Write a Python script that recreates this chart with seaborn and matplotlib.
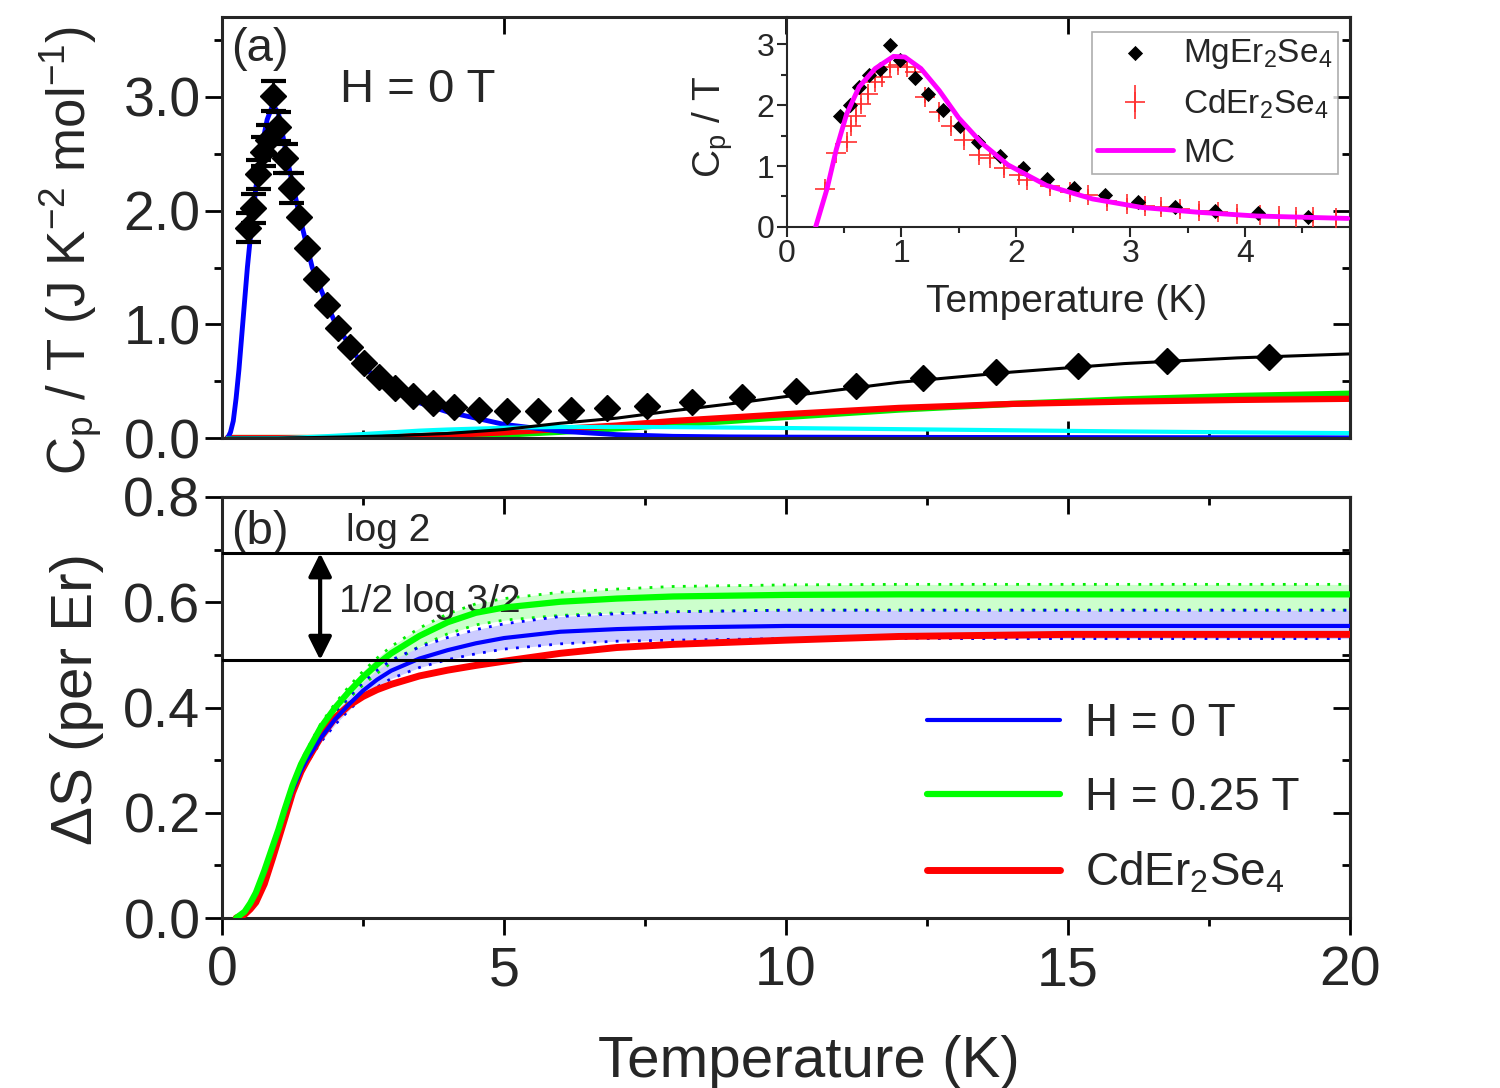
import numpy as np
import pandas as pd
import seaborn as sns
import matplotlib.pyplot as plt
from matplotlib.ticker import MultipleLocator

# ---- panel (a): MgEr2Se4, H = 0 T, total Cp/T
T_mg = [0.46, 0.55, 0.63, 0.72, 0.81, 0.90, 0.99, 1.12, 1.23, 1.36, 1.51, 1.67,
        1.86, 2.06, 2.27, 2.51, 2.78, 3.07, 3.39, 3.74, 4.12, 4.55, 5.05, 5.60,
        6.19, 6.82, 7.53, 8.33, 9.22, 10.18, 11.24, 12.43, 13.72, 15.18, 16.75, 18.56]
cp_mg = [1.85, 2.02, 2.32, 2.52, 2.62, 3.01, 2.74, 2.46, 2.20, 1.94, 1.67, 1.40,
         1.17, 0.97, 0.80, 0.66, 0.54, 0.44, 0.37, 0.31, 0.27, 0.25, 0.24, 0.24,
         0.25, 0.26, 0.28, 0.32, 0.36, 0.41, 0.46, 0.53, 0.58, 0.63, 0.68, 0.71]
n_cap = 9          # first points are drawn with error bar caps
err_low = 0.13
err_high = 0.07

# fit curves in panel (a)
T_fit = [0.1, 0.15, 0.2, 0.25, 0.3, 0.35, 0.4, 0.45, 0.5, 0.6, 0.7, 0.8, 0.9, 1.0, 1.2, 1.4,
         1.6, 1.8, 2.0, 2.5, 3.0, 3.5, 4.0, 5.0, 6.0, 7.0, 8.0, 9.0, 10, 12, 14, 16, 18, 20]
fit_mag = [0.0, 0.05, 0.15, 0.35, 0.6, 0.9, 1.2, 1.5, 1.75, 2.2, 2.55, 2.8, 2.93, 2.86, 2.35, 1.9,
           1.5, 1.25, 1.02, 0.63, 0.42, 0.31, 0.23, 0.12, 0.06, 0.03, 0.015, 0.01, 0.008,
           0.006, 0.005, 0.004, 0.003, 0.002]
fit_total = [0, 0, 0, 0, 0, 0, 0, 0, 0, 0, 0, 0, 0, 0, 0.002, 0.003,
             0.004, 0.006, 0.008, 0.013, 0.02, 0.03, 0.04, 0.075, 0.13, 0.175, 0.24, 0.30,
             0.365, 0.49, 0.58, 0.655, 0.705, 0.74]
fit_red = [0, 0, 0, 0, 0, 0, 0, 0, 0, 0, 0, 0, 0, 0, 0, 0,
           0, 0, 0, 0.005, 0.01, 0.018, 0.027, 0.05, 0.08, 0.11, 0.15, 0.18, 0.21,
           0.265, 0.30, 0.32, 0.335, 0.345]
fit_green = [0, 0, 0, 0, 0, 0, 0, 0, 0, 0, 0, 0, 0, 0, 0, 0,
             0, 0, 0, 0, 0.005, 0.01, 0.016, 0.03, 0.055, 0.085, 0.12, 0.15, 0.185,
             0.25, 0.30, 0.34, 0.37, 0.39]
fit_cyan = [0, 0, 0, 0, 0, 0, 0, 0, 0, 0, 0, 0, 0, 0, 0.002, 0.006,
            0.01, 0.015, 0.02, 0.035, 0.05, 0.065, 0.075, 0.09, 0.097, 0.098, 0.096, 0.092,
            0.088, 0.078, 0.068, 0.058, 0.05, 0.043]

# ---- inset: magnetic Cp/T
T_in_mg = [0.46, 0.55, 0.63, 0.72, 0.81, 0.90, 0.99, 1.12, 1.23, 1.36, 1.51, 1.67,
           1.86, 2.06, 2.27, 2.51, 2.78, 3.07, 3.39, 3.74, 4.12, 4.55]
cp_in_mg = [1.82, 2.0, 2.3, 2.5, 2.6, 2.99, 2.74, 2.44, 2.18, 1.92, 1.66, 1.39,
            1.17, 0.96, 0.78, 0.64, 0.52, 0.41, 0.32, 0.26, 0.23, 0.16]
T_cd = [0.33, 0.43, 0.52, 0.56, 0.60, 0.65, 0.71, 0.77, 0.83, 0.90, 0.97, 1.05, 1.12,
        1.21, 1.33, 1.43, 1.55, 1.68, 1.77, 1.90, 2.03, 2.10, 2.30, 2.47, 2.63, 2.80,
        2.97, 3.13, 3.27, 3.43, 3.60, 3.77, 3.93, 4.13, 4.30, 4.45, 4.60, 4.80]
cp_cd = [0.63, 1.21, 1.39, 1.66, 1.82, 2.02, 2.18, 2.38, 2.46, 2.63, 2.66, 2.63, 2.55,
         2.13, 1.88, 1.66, 1.43, 1.18, 1.13, 0.96, 0.86, 0.77, 0.68, 0.57, 0.52, 0.43,
         0.38, 0.35, 0.32, 0.29, 0.27, 0.24, 0.21, 0.19, 0.18, 0.17, 0.16, 0.14]
err_cd = 0.1
T_mc = [0.25, 0.35, 0.43, 0.52, 0.63, 0.77, 0.93, 1.03, 1.17, 1.33, 1.50, 1.70, 1.93,
        2.27, 2.67, 3.10, 3.60, 4.10, 4.90]
cp_mc = [0.0, 0.63, 1.27, 1.85, 2.3, 2.6, 2.8, 2.79, 2.6, 2.24, 1.79, 1.38, 1.02,
         0.68, 0.46, 0.32, 0.24, 0.18, 0.14]

# ---- panel (b): entropy
T_S = [0.25, 0.4, 0.5, 0.6, 0.75, 0.9, 1.0, 1.1, 1.25, 1.4, 1.5, 1.75, 2.0, 2.25,
       2.5, 2.75, 3.0, 3.5, 4.0, 4.5, 5.0, 6.0, 7.0, 8.0, 10, 12, 15, 20]
S_green = [0.0, 0.012, 0.028, 0.048, 0.09, 0.137, 0.168, 0.203, 0.252, 0.292, 0.313, 0.362,
           0.399, 0.43, 0.458, 0.482, 0.503, 0.536, 0.562, 0.58, 0.59, 0.601, 0.607, 0.611,
           0.614, 0.615, 0.615, 0.615]
S_green_hi = [0.0, 0.013, 0.030, 0.050, 0.093, 0.140, 0.171, 0.207, 0.257, 0.298, 0.319, 0.369,
              0.407, 0.44, 0.469, 0.494, 0.516, 0.551, 0.578, 0.597, 0.607, 0.619, 0.625, 0.630,
              0.633, 0.634, 0.634, 0.634]
S_green_lo = [0.0, 0.011, 0.026, 0.046, 0.087, 0.134, 0.165, 0.199, 0.246, 0.285, 0.305, 0.353,
              0.388, 0.417, 0.443, 0.465, 0.485, 0.516, 0.54, 0.557, 0.566, 0.575, 0.58, 0.582,
              0.585, 0.585, 0.585, 0.585]
S_blue = [0.0, 0.012, 0.028, 0.047, 0.088, 0.134, 0.164, 0.197, 0.243, 0.28, 0.3, 0.342,
          0.377, 0.406, 0.432, 0.453, 0.47, 0.493, 0.509, 0.522, 0.532, 0.544, 0.549, 0.552,
          0.555, 0.555, 0.555, 0.555]
S_blue_hi = [0.0, 0.013, 0.030, 0.049, 0.091, 0.137, 0.167, 0.201, 0.249, 0.287, 0.308, 0.352,
             0.389, 0.42, 0.448, 0.471, 0.49, 0.515, 0.533, 0.548, 0.559, 0.573, 0.578, 0.582,
             0.585, 0.585, 0.585, 0.585]
S_blue_lo = [0.0, 0.011, 0.026, 0.045, 0.085, 0.131, 0.161, 0.193, 0.238, 0.274, 0.293, 0.334,
             0.367, 0.395, 0.42, 0.439, 0.455, 0.476, 0.491, 0.502, 0.511, 0.521, 0.526, 0.528,
             0.531, 0.531, 0.531, 0.531]
S_red = [0.0, 0.007, 0.017, 0.03, 0.065, 0.115, 0.15, 0.185, 0.238, 0.278, 0.298, 0.344,
         0.38, 0.404, 0.421, 0.434, 0.444, 0.46, 0.471, 0.48, 0.488, 0.503, 0.514, 0.52,
         0.528, 0.535, 0.539, 0.539]
log2 = np.log(2)
log2_low = np.log(2) - 0.5 * np.log(1.5)

sns.set_style('ticks')
plt.rcParams['font.family'] = ['Liberation Sans', 'DejaVu Sans']
plt.rcParams['mathtext.fontset'] = 'custom'
plt.rcParams['mathtext.rm'] = 'Liberation Sans'
plt.rcParams['mathtext.default'] = 'regular'
plt.rcParams['axes.linewidth'] = 2.2

fig = plt.figure(figsize=(15, 10.88), dpi=100)
ax_a = fig.add_axes([0.148, 0.5974, 0.752, 0.3866])
ax_b = fig.add_axes([0.148, 0.1562, 0.752, 0.3870])
ax_in = fig.add_axes([0.5247, 0.7914, 0.3753, 0.1926])


def style_ticks(ax, xdir, ydir):
    ax.tick_params(which='both', width=2, labelsize=40, color='k')
    ax.tick_params(axis='x', which='both', direction=xdir)
    ax.tick_params(axis='y', which='both', direction=ydir)
    ax.tick_params(which='major', length=12)
    ax.tick_params(which='minor', length=6)


# ---------------- panel (a)
sns.lineplot(x=T_fit, y=fit_green, ax=ax_a, color='#00ee00', lw=4.5)
sns.lineplot(x=T_fit, y=fit_red, ax=ax_a, color='#ff0000', lw=4.5)
sns.lineplot(x=T_fit, y=fit_mag, ax=ax_a, color='#0000ff', lw=3.5)
sns.lineplot(x=T_fit, y=fit_cyan, ax=ax_a, color='#00ffff', lw=3)
sns.lineplot(x=T_fit, y=fit_total, ax=ax_a, color='k', lw=2.2)
ax_a.errorbar(T_mg[:n_cap], cp_mg[:n_cap], yerr=err_low, fmt='D', color='k', ms=13.5,
              capsize=9, capthick=3, elinewidth=2, zorder=6)
ax_a.errorbar(T_mg[n_cap:], cp_mg[n_cap:], yerr=err_high, fmt='D', color='k', ms=13.5,
              capsize=0, elinewidth=2.5, zorder=6)
ax_a.set_xlim(0, 20)
ax_a.set_ylim(0, 3.7)
ax_a.xaxis.set_major_locator(MultipleLocator(5))
ax_a.xaxis.set_minor_locator(MultipleLocator(2.5))
ax_a.yaxis.set_major_locator(MultipleLocator(1.0))
ax_a.yaxis.set_minor_locator(MultipleLocator(0.5))
ax_a.yaxis.set_major_formatter(plt.FormatStrFormatter('%.1f'))
style_ticks(ax_a, 'in', 'out')
ax_a.tick_params(axis='x', top=True, labelbottom=False)
sec = ax_a.secondary_yaxis('right')
sec.yaxis.set_major_locator(MultipleLocator(1.0))
sec.yaxis.set_minor_locator(MultipleLocator(0.5))
style_ticks(sec, 'in', 'in')
sec.tick_params(labelright=False)
ax_a.set_ylabel('C$_p$ / T (J K$^{-2}$ mol$^{-1}$)', fontsize=38)
ax_a.yaxis.set_label_coords(-0.105, 0.447)
ax_a.text(0.008, 0.925, '(a)', transform=ax_a.transAxes, fontsize=34, va='center', ha='left')
ax_a.text(0.105, 0.827, 'H = 0 T', transform=ax_a.transAxes, fontsize=34, va='center', ha='left')

# ---------------- inset
ax_in.set_facecolor('none')
ax_in.errorbar(T_cd, cp_cd, yerr=err_cd, fmt='+', color='#ff3030', ms=14, mew=1.2,
               elinewidth=1.2, label='CdEr$_2$Se$_4$', zorder=3)
sns.scatterplot(x=T_in_mg, y=cp_in_mg, ax=ax_in, marker='D', s=60, color='k',
                linewidth=0, label='MgEr$_2$Se$_4$', zorder=4)
sns.lineplot(x=T_mc, y=cp_mc, ax=ax_in, color='#ff00ff', lw=3.5, label='MC', zorder=5)
ax_in.set_xlim(0, 4.92)
ax_in.set_ylim(0, 3.44)
ax_in.xaxis.set_major_locator(MultipleLocator(1))
ax_in.xaxis.set_minor_locator(MultipleLocator(0.5))
ax_in.yaxis.set_major_locator(MultipleLocator(1))
ax_in.yaxis.set_minor_locator(MultipleLocator(0.5))
ax_in.tick_params(which='both', width=1.5, labelsize=23, direction='out', pad=2)
ax_in.tick_params(which='major', length=7)
ax_in.tick_params(which='minor', length=4)
for s in ['top', 'right']:
    ax_in.spines[s].set_visible(False)
ax_in.spines['left'].set_linewidth(1.5)
ax_in.spines['bottom'].set_linewidth(1.5)
ax_in.set_xlabel('Temperature (K)', fontsize=28)
ax_in.xaxis.set_label_coords(0.497, -0.27)
ax_in.set_ylabel('C$_p$ / T', fontsize=28)
ax_in.yaxis.set_label_coords(-0.092, 0.476)
h, l = ax_in.get_legend_handles_labels()
order = [l.index('MgEr$_2$Se$_4$'), l.index('CdEr$_2$Se$_4$'), l.index('MC')]
leg = ax_in.legend([h[i] for i in order], [l[i] for i in order], loc='upper right',
                   bbox_to_anchor=(0.978, 0.93), borderaxespad=0, fontsize=24,
                   frameon=True, fancybox=False, edgecolor='#999999', handlelength=2.3,
                   handletextpad=0.3, labelspacing=0.5, borderpad=0.15)
leg.get_frame().set_linewidth(1.2)

# ---------------- panel (b)
ax_b.fill_between(T_S, S_green_lo, S_green_hi, color='#ccffcc', lw=0, zorder=1)
ax_b.fill_between(T_S, S_blue_lo, S_blue_hi, color='#ccccff', lw=0, zorder=1)
for arr, c in [(S_green_hi, '#00ee00'), (S_green_lo, '#00ee00'),
               (S_blue_hi, '#0000ff'), (S_blue_lo, '#0000ff')]:
    sns.lineplot(x=T_S, y=arr, ax=ax_b, color=c, lw=2, ls=(0, (1, 3)), zorder=2)
sns.lineplot(x=T_S, y=S_red, ax=ax_b, color='#ff0000', lw=5, zorder=3,
             label='CdEr$_2$Se$_4$', solid_capstyle='round')
sns.lineplot(x=T_S, y=S_blue, ax=ax_b, color='#0000ff', lw=3, zorder=4, label='H = 0 T')
sns.lineplot(x=T_S, y=S_green, ax=ax_b, color='#00ff00', lw=4.5, zorder=4, label='H = 0.25 T')
ax_b.axhline(log2, color='k', lw=2.2, zorder=5)
ax_b.axhline(log2_low, color='k', lw=2.2, zorder=5)
ax_b.annotate('', xy=(1.74, log2), xytext=(1.74, log2_low),
              arrowprops=dict(arrowstyle='<|-|>', lw=3, color='k', mutation_scale=35,
                              shrinkA=0, shrinkB=0), zorder=6)
ax_b.text(2.2, 0.735, 'log 2', fontsize=28, va='center', ha='left')
ax_b.text(2.07, 0.60, '1/2 log 3/2', fontsize=28, va='center', ha='left')
ax_b.text(0.008, 0.917, '(b)', transform=ax_b.transAxes, fontsize=34, va='center', ha='left')
ax_b.set_xlim(0, 20)
ax_b.set_ylim(0, 0.8)
ax_b.xaxis.set_major_locator(MultipleLocator(5))
ax_b.xaxis.set_minor_locator(MultipleLocator(2.5))
ax_b.yaxis.set_major_locator(MultipleLocator(0.2))
ax_b.yaxis.set_minor_locator(MultipleLocator(0.1))
ax_b.yaxis.set_major_formatter(plt.FormatStrFormatter('%.1f'))
style_ticks(ax_b, 'out', 'out')
ax_b.tick_params(axis='x', pad=8)
secx = ax_b.secondary_xaxis('top')
secx.xaxis.set_major_locator(MultipleLocator(5))
secx.xaxis.set_minor_locator(MultipleLocator(2.5))
style_ticks(secx, 'in', 'in')
secx.tick_params(labeltop=False)
secy = ax_b.secondary_yaxis('right')
secy.yaxis.set_major_locator(MultipleLocator(0.2))
secy.yaxis.set_minor_locator(MultipleLocator(0.1))
style_ticks(secy, 'in', 'in')
secy.tick_params(labelright=False)
ax_b.set_xlabel('Temperature (K)', fontsize=42)
ax_b.xaxis.set_label_coords(0.52, -0.278)
ax_b.set_ylabel('ΔS (per Er)', fontsize=42)
ax_b.yaxis.set_label_coords(-0.105, 0.52)
h, l = ax_b.get_legend_handles_labels()
order = [l.index('H = 0 T'), l.index('H = 0.25 T'), l.index('CdEr$_2$Se$_4$')]
ax_b.legend([h[i] for i in order], [l[i] for i in order], loc='upper left',
            bbox_to_anchor=(0.625, 0.512), frameon=False, fontsize=33,
            handlelength=2.9, handletextpad=0.55, labelspacing=0.65,
            borderpad=0, borderaxespad=0)

fig.savefig('out.png', dpi=100)
